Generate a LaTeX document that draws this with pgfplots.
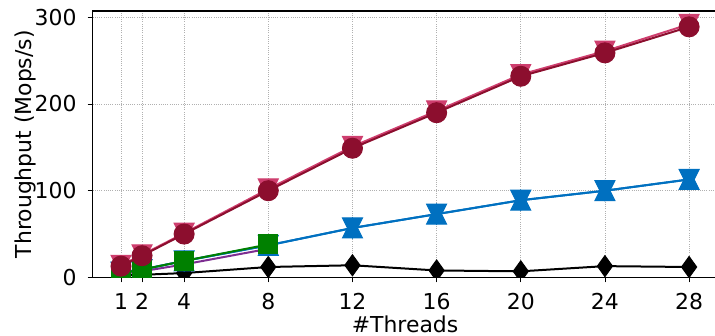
\documentclass[border=0pt]{standalone}
\usepackage{pgfplots}
\pgfplotsset{compat=1.18}
\usepackage{fontspec}
\setmainfont{DejaVu Sans}

\definecolor{crimson}{RGB}{140,14,46}
\definecolor{rosepink}{RGB}{206,62,110}
\definecolor{ocean}{RGB}{0,112,192}
\definecolor{leaf}{RGB}{0,128,0}
\definecolor{plum}{RGB}{125,45,145}
\definecolor{gridgray}{RGB}{176,176,176}

% box-centred triangles and a slim diamond
\pgfdeclareplotmark{tup}{%
  \pgfpathmoveto{\pgfqpoint{0pt}{\pgfplotmarksize}}%
  \pgfpathlineto{\pgfqpoint{-\pgfplotmarksize}{-\pgfplotmarksize}}%
  \pgfpathlineto{\pgfqpoint{\pgfplotmarksize}{-\pgfplotmarksize}}%
  \pgfpathclose\pgfusepathqfillstroke}
\pgfdeclareplotmark{tdown}{%
  \pgfpathmoveto{\pgfqpoint{0pt}{-\pgfplotmarksize}}%
  \pgfpathlineto{\pgfqpoint{-\pgfplotmarksize}{\pgfplotmarksize}}%
  \pgfpathlineto{\pgfqpoint{\pgfplotmarksize}{\pgfplotmarksize}}%
  \pgfpathclose\pgfusepathqfillstroke}
\pgfdeclareplotmark{slimdiamond}{%
  \pgfpathmoveto{\pgfqpoint{0pt}{\pgfplotmarksize}}%
  \pgfpathlineto{\pgfqpoint{0.72\pgfplotmarksize}{0pt}}%
  \pgfpathlineto{\pgfqpoint{0pt}{-\pgfplotmarksize}}%
  \pgfpathlineto{\pgfqpoint{-0.72\pgfplotmarksize}{0pt}}%
  \pgfpathclose\pgfusepathqfillstroke}

\begin{document}
\begin{tikzpicture}
\begin{axis}[
  scale only axis,
  width=624.9bp, height=266.4bp,
  xmin=-0.35, xmax=29.35, ymin=0, ymax=307.3,
  clip mode=individual, clip marker paths=true,
  xtick={1,2,4,8,12,16,20,24,28},
  ytick={0,100,200,300},
  xtick pos=lower, ytick pos=left,
  tick align=outside, major tick length=4.9bp,
  tick style={black, line width=0.8bp},
  axis line style={line width=1.1bp},
  grid=major,
  major grid style={gridgray, line width=0.8bp, dash pattern=on 0.8bp off 1.4bp},
  font=\fontsize{22}{26}\selectfont,
  /pgf/number format/assume math mode=true,
  xticklabel style={inner sep=0pt, anchor=north, yshift=-10.6bp},
  yticklabel style={inner sep=0pt, anchor=east, xshift=-11bp},
  xlabel={\#Threads},
  ylabel={Throughput (Mops/s)},
  xlabel style={at={(axis description cs:0.5,-0.206)}, anchor=base},
  ylabel style={at={(axis description cs:-0.097,0.5)}, anchor=base},
  every axis plot/.append style={line width=2bp},
  mark size=10bp,
]
% thread count vs. throughput, one series per implementation
\addplot[black, mark=slimdiamond, mark size=10.5bp,
  mark options={solid, fill=black, line width=1bp}]
  coordinates {(1,2)(2,3)(4,5)(8,12)(12,14)(16,8)(20,7)(24,13)(28,12)};
\addplot[plum, no marks]
  coordinates {(1,4)(2,7)(4,15)(8,33)};
\addplot[ocean, mark=tdown, mark options={solid, fill=ocean, line width=1bp}]
  coordinates {(1,6)(2,9)(4,19)(8,37)(12,57)(16,73)(20,89)(24,100)(28,113)};
\addplot[ocean, mark=tup, mark options={solid, fill=ocean, line width=1bp}]
  coordinates {(1,6)(2,9)(4,19)(8,37)(12,57)(16,73)(20,89)(24,100)(28,113)};
\addplot[leaf, mark=square*, mark size=9.5bp,
  mark options={solid, fill=leaf, line width=1bp}]
  coordinates {(1,5)(2,9)(4,19)(8,38)};
\addplot[rosepink, mark=tdown, mark options={solid, fill=rosepink, line width=1bp}]
  coordinates {(1,14)(2,26)(4,51)(8,102)(12,151)(16,192)(20,234)(24,261)(28,292)};
\addplot[crimson, mark=*, mark options={solid, fill=crimson, line width=1bp}]
  coordinates {(1,13)(2,25)(4,50)(8,100)(12,149)(16,190)(20,232)(24,259)(28,289)};
\end{axis}
\pgfresetboundingbox
\path (-92.6bp,-58.6bp) rectangle (622.4bp,277.4bp);
\end{tikzpicture}
\end{document}
